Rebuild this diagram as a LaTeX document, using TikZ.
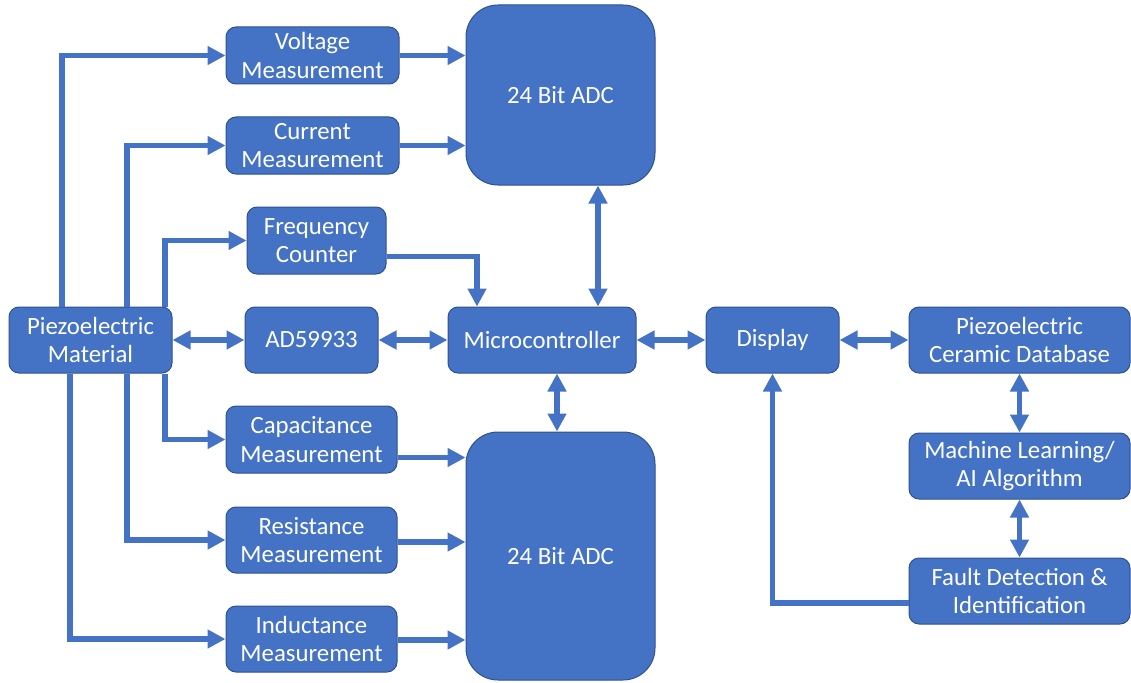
\documentclass[tikz,border=0pt]{standalone}
\usepackage{fontspec}
\setmainfont{Carlito}
\usetikzlibrary{arrows.meta}
\definecolor{boxblue}{HTML}{4472C4}
\definecolor{edgeblue}{HTML}{2F528F}
\begin{document}
\begin{tikzpicture}[x=1pt,y=-1pt,
  box/.style={rounded corners=10pt, fill=boxblue, draw=edgeblue, line width=1pt,
    text=white, align=center, inner sep=0pt,
    font=\fontsize{24.8}{28.5}\selectfont},
  bigbox/.style={box, rounded corners=32pt},
  link/.style={draw=boxblue, line width=5.5pt},
  arr/.style={link, -{Triangle[length=18pt,width=18pt]}},
  darr/.style={link, {Triangle[length=18pt,width=18pt]}-{Triangle[length=18pt,width=18pt]}}]
\useasboundingbox (0,0) rectangle (1131,682);

% sensing side
\node[box, minimum width=163pt, minimum height=66pt] (pm) at (90.5,340) {Piezoelectric\\Material};
\node[box, minimum width=173pt, minimum height=57pt] (volt) at (312.5,55.5) {Voltage\\Measurement};
\node[box, minimum width=173pt, minimum height=57pt] (curr) at (312.5,145.5) {Current\\Measurement};
\node[box, minimum width=139pt, minimum height=67pt] (freq) at (316.5,240.5) {Frequency\\Counter};
\node[box, minimum width=133pt, minimum height=66pt] (ad) at (311.5,340) {AD59933};
\node[box, minimum width=171pt, minimum height=67pt] (cap) at (311.5,439.5) {Capacitance\\Measurement};
\node[box, minimum width=171pt, minimum height=66pt] (res) at (311.5,540) {Resistance\\Measurement};
\node[box, minimum width=171pt, minimum height=66pt] (ind) at (311.5,639) {Inductance\\Measurement};

% converters and controller
\node[bigbox, minimum width=189pt, minimum height=180pt] (adc1) at (560.5,95) {24 Bit ADC};
\node[bigbox, minimum width=189pt, minimum height=248pt] (adc2) at (560.5,556) {24 Bit ADC};
\node[box, minimum width=188pt, minimum height=66pt] (mcu) at (542,340) {Microcontroller};

% output and analysis side
\node[box, minimum width=133pt, minimum height=66pt] (disp) at (772.5,340) {Display};
\node[box, minimum width=221pt, minimum height=66pt] (db) at (1019.5,340) {Piezoelectric\\Ceramic Database};
\node[box, minimum width=221pt, minimum height=66pt] (ml) at (1019.5,466) {Machine Learning/\\AI Algorithm};
\node[box, minimum width=221pt, minimum height=66pt] (fault) at (1019.5,591) {Fault Detection \&\\Identification};

% measurement branches
\draw[arr] (62,0 |- pm.north) |- (volt.west);
\draw[arr] (127,0 |- pm.north) |- (curr.west);
\draw[arr] (165,0 |- pm.north) |- (freq.west);
\draw[arr] (165,0 |- pm.south) |- (cap.west);
\draw[arr] (127,0 |- pm.south) |- (res.west);
\draw[arr] (70,0 |- pm.south) |- (ind.west);
\draw[darr] (pm.east) -- (ad.west);
\draw[darr] (ad.east) -- (mcu.west);

% into the converters
\draw[arr] (volt.east) -- (volt.east -| adc1.west);
\draw[arr] (curr.east) -- (curr.east -| adc1.west);
\draw[arr] ([yshift=-18pt]cap.east) -- ([yshift=-18pt]cap.east -| adc2.west);
\draw[arr] ([yshift=-2pt]res.east) -- ([yshift=-2pt]res.east -| adc2.west);
\draw[arr] ([yshift=-1pt]ind.east) -- ([yshift=-1pt]ind.east -| adc2.west);

% controller links
\draw[arr] ([yshift=-16pt]freq.east) -| (477,0 |- mcu.north);
\draw[darr] (598,0 |- mcu.north) -- (598,0 |- adc1.south);
\draw[darr] (557,0 |- mcu.south) -- (557,0 |- adc2.north);
\draw[darr] (mcu.east) -- (disp.west);
\draw[darr] (disp.east) -- (db.west);
\draw[darr] (db.south) -- (ml.north);
\draw[darr] (ml.south) -- (fault.north);
\draw[arr] ([yshift=-12pt]fault.west) -| (disp.south);
\end{tikzpicture}
\end{document}
